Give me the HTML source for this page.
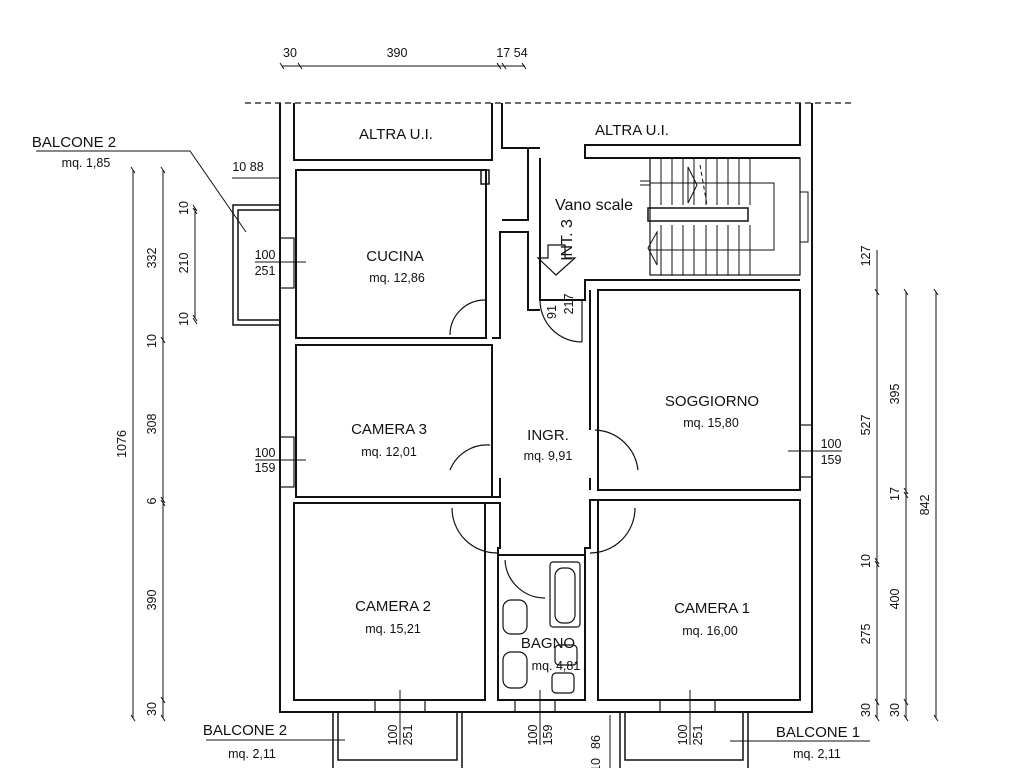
<!DOCTYPE html>
<html><head><meta charset="utf-8"><style>
html,body{margin:0;padding:0;background:#fff}
svg{display:block}
text{font-family:"Liberation Sans",sans-serif;fill:#111}
</style></head><body>
<svg width="1024" height="768" viewBox="0 0 1024 768" xmlns="http://www.w3.org/2000/svg">
<g stroke="#111" fill="none" stroke-width="2">
<line x1="245" y1="103" x2="855" y2="103" stroke-dasharray="6,4" stroke-width="1.2"/>
<polyline points="280,103 280,712 812,712 812,103"/>
<polyline points="294,103 294,160 492,160 492,103"/>
<polyline points="502,103 502,148 528,148 528,220 502,220"/>
<polyline points="800,103 800,145 585,145 585,158 800,158"/>
<rect x="296" y="170" width="190" height="168"/>
<rect x="481" y="170" width="8" height="14" stroke-width="1.5"/>
<rect x="296" y="345" width="196" height="152"/>
<rect x="294" y="503" width="191" height="197"/>
<rect x="498" y="555" width="87" height="145"/>
<rect x="598" y="290" width="202" height="200"/>
<rect x="598" y="500" width="202" height="200"/>
<polyline points="492,338 500,338 500,232 528,232 528,310 540,310"/>
<polyline points="540,158 540,300 585,300 585,280 800,280"/>
<line x1="528" y1="148" x2="540" y2="148"/>
<polyline points="492,497 500,497 500,478"/>
<polyline points="485,503 500,503 500,548 498,548 498,555"/>
<polyline points="585,555 585,548 590,548 590,500 598,500"/>
<polyline points="590,490 590,478"/>
<polyline points="590,290 590,330"/>
<line x1="590" y1="330" x2="590" y2="430"/>
<rect x="650" y="158" width="150" height="117" stroke-width="1.2"/>
<g stroke-width="1">
<line x1="661" y1="158" x2="661" y2="205"/><line x1="672" y1="158" x2="672" y2="205"/><line x1="683" y1="158" x2="683" y2="205"/><line x1="694" y1="158" x2="694" y2="205"/><line x1="706" y1="158" x2="706" y2="205"/><line x1="717" y1="158" x2="717" y2="205"/><line x1="728" y1="158" x2="728" y2="205"/><line x1="739" y1="158" x2="739" y2="205"/><line x1="750" y1="158" x2="750" y2="205"/>
<line x1="661" y1="225" x2="661" y2="275"/><line x1="672" y1="225" x2="672" y2="275"/><line x1="683" y1="225" x2="683" y2="275"/><line x1="694" y1="225" x2="694" y2="275"/><line x1="706" y1="225" x2="706" y2="275"/><line x1="717" y1="225" x2="717" y2="275"/><line x1="728" y1="225" x2="728" y2="275"/><line x1="739" y1="225" x2="739" y2="275"/><line x1="750" y1="225" x2="750" y2="275"/>
<polyline points="650,183 774,183 774,250 650,250"/>
<polygon points="688,167 697,185 688,203"/>
<polygon points="657,232 648,248 657,265"/>
<line x1="640" y1="181" x2="650" y2="181"/><line x1="640" y1="185" x2="650" y2="185"/>
<line x1="700" y1="165" x2="707" y2="205" stroke-dasharray="4,3"/>
<rect x="648" y="208" width="100" height="13" stroke-width="1.5"/>
<rect x="800" y="192" width="8" height="50"/>
</g>
<polygon points="538,258 548,258 548,245 565,245 565,258 575,258 556,275" stroke-width="1.2"/>
<g stroke-width="1.2">
<path d="M450,335 A35,35 0 0 1 485,300"/>
<path d="M450,470 A40,40 0 0 1 490,445" />
<path d="M452,508 A45,45 0 0 0 497,553"/>
<path d="M635,508 A45,45 0 0 1 590,553"/>
<path d="M638,470 A45,45 0 0 0 595,430"/>
<path d="M540,300 A42,42 0 0 0 582,342"/>
<path d="M505,560 A40,40 0 0 0 545,598"/>
<line x1="582" y1="300" x2="582" y2="342"/>
<line x1="585" y1="555" x2="585" y2="700"/>
</g>
<g stroke-width="1.2">
<rect x="550" y="562" width="30" height="65" rx="3"/>
<rect x="555" y="568" width="20" height="55" rx="8"/>
<rect x="503" y="600" width="24" height="34" rx="8"/>
<rect x="503" y="652" width="24" height="36" rx="8"/>
<rect x="555" y="645" width="22" height="20" rx="4"/>
<rect x="552" y="673" width="22" height="20" rx="4"/>
</g>
<g stroke-width="1.2">
<rect x="280" y="238" width="14" height="50"/>
<rect x="280" y="437" width="14" height="50"/>
<rect x="800" y="425" width="12" height="52"/>
<rect x="375" y="700" width="50" height="12"/>
<rect x="515" y="700" width="40" height="12"/>
<rect x="660" y="700" width="55" height="12"/>
</g>
<g stroke-width="1.5">
<polyline points="280,205 233,205 233,325 280,325"/>
<polyline points="280,210 238,210 238,320 280,320"/>
<polyline points="333,712 333,768"/><polyline points="338,712 338,760 457,760 457,712"/><polyline points="462,712 462,768"/>
<polyline points="620,712 620,768"/><polyline points="625,712 625,760 743,760 743,712"/><polyline points="748,712 748,768"/>
</g>
<g stroke-width="1">
<polyline points="36,151 190,151 246,232"/>
<line x1="255" y1="262" x2="306" y2="262"/>
<line x1="255" y1="460" x2="306" y2="460"/>
<line x1="788" y1="451" x2="842" y2="451"/>
<line x1="400" y1="690" x2="400" y2="745"/>
<line x1="540" y1="690" x2="540" y2="745"/>
<line x1="690" y1="690" x2="690" y2="745"/>
<line x1="206" y1="740" x2="345" y2="740"/>
<line x1="730" y1="741" x2="870" y2="741"/>
<line x1="610" y1="715" x2="610" y2="768"/>
<line x1="282" y1="66" x2="525" y2="66"/>
<line x1="232" y1="178" x2="280" y2="178"/>
<line x1="133" y1="170" x2="133" y2="718"/>
<line x1="163" y1="170" x2="163" y2="718"/>
<line x1="195" y1="208" x2="195" y2="318"/>
<line x1="877" y1="250" x2="877" y2="718"/>
<line x1="906" y1="292" x2="906" y2="718"/>
<line x1="936" y1="292" x2="936" y2="718"/>
</g>
<g stroke-width="1">
<path d="M280,63l4,6M298,63l4,6M497,63l4,6M502,63l4,6M522,63l4,6"/>
<path d="M131,167l4,6M131,715l4,6M161,167l4,6M161,337l4,6M161,497l4,6M161,500l4,6M161,697l4,6M161,715l4,6"/>
<path d="M193,205l4,6M193,208l4,6M193,315l4,6M193,318l4,6"/>
<path d="M875,289l4,6M875,558l4,6M875,561l4,6M875,699l4,6M875,715l4,6"/>
<path d="M904,289l4,6M904,488l4,6M904,492l4,6M904,699l4,6M904,715l4,6"/>
<path d="M934,289l4,6M934,715l4,6"/>
</g>
</g>
<g font-size="15" text-anchor="middle">
<text x="396" y="139">ALTRA U.I.</text>
<text x="632" y="135">ALTRA U.I.</text>
<text x="395" y="261">CUCINA</text>
<text x="389" y="434">CAMERA 3</text>
<text x="548" y="440">INGR.</text>
<text x="712" y="406">SOGGIORNO</text>
<text x="393" y="611">CAMERA 2</text>
<text x="712" y="613">CAMERA 1</text>
<text x="548" y="648">BAGNO</text>
<text x="594" y="210" font-size="16">Vano scale</text>
<text x="74" y="147">BALCONE 2</text>
<text x="245" y="735">BALCONE 2</text>
<text x="818" y="737">BALCONE 1</text>
</g>
<g font-size="12.5" text-anchor="middle">
<text x="397" y="282">mq. 12,86</text>
<text x="389" y="456">mq. 12,01</text>
<text x="548" y="460">mq. 9,91</text>
<text x="711" y="427">mq. 15,80</text>
<text x="393" y="633">mq. 15,21</text>
<text x="710" y="635">mq. 16,00</text>
<text x="556" y="670">mq. 4,81</text>
<text x="86" y="167">mq. 1,85</text>
<text x="252" y="758">mq. 2,11</text>
<text x="817" y="758">mq. 2,11</text>
<text x="290" y="57">30</text>
<text x="397" y="57">390</text>
<text x="512" y="57">17 54</text>
<text x="248" y="171">10 88</text>
<text x="265" y="259">100</text>
<text x="265" y="275">251</text>
<text x="265" y="457">100</text>
<text x="265" y="472">159</text>
<text x="831" y="448">100</text>
<text x="831" y="464">159</text>
</g>
<g font-size="12.5" text-anchor="middle">
<text transform="translate(126,444) rotate(-90)">1076</text>
<text transform="translate(156,258) rotate(-90)">332</text>
<text transform="translate(156,341) rotate(-90)">10</text>
<text transform="translate(156,424) rotate(-90)">308</text>
<text transform="translate(156,501) rotate(-90)">6</text>
<text transform="translate(156,600) rotate(-90)">390</text>
<text transform="translate(156,709) rotate(-90)">30</text>
<text transform="translate(188,208) rotate(-90)">10</text>
<text transform="translate(188,263) rotate(-90)">210</text>
<text transform="translate(188,319) rotate(-90)">10</text>
<text transform="translate(870,256) rotate(-90)">127</text>
<text transform="translate(870,425) rotate(-90)">527</text>
<text transform="translate(870,561) rotate(-90)">10</text>
<text transform="translate(870,634) rotate(-90)">275</text>
<text transform="translate(870,710) rotate(-90)">30</text>
<text transform="translate(899,394) rotate(-90)">395</text>
<text transform="translate(899,494) rotate(-90)">17</text>
<text transform="translate(899,599) rotate(-90)">400</text>
<text transform="translate(899,710) rotate(-90)">30</text>
<text transform="translate(929,505) rotate(-90)">842</text>
<text transform="translate(397,735) rotate(-90)">100</text>
<text transform="translate(412,735) rotate(-90)">251</text>
<text transform="translate(537,735) rotate(-90)">100</text>
<text transform="translate(552,735) rotate(-90)">159</text>
<text transform="translate(687,735) rotate(-90)">100</text>
<text transform="translate(702,735) rotate(-90)">251</text>
<text transform="translate(600,742) rotate(-90)">86</text>
<text transform="translate(600,765) rotate(-90)">10</text>
<text transform="translate(556,312) rotate(-90)">91</text>
<text transform="translate(573,304) rotate(-90)">217</text>
</g>
<text font-size="16" text-anchor="middle" transform="translate(572,240) rotate(-90)">INT. 3</text>
</svg>
</body></html>
